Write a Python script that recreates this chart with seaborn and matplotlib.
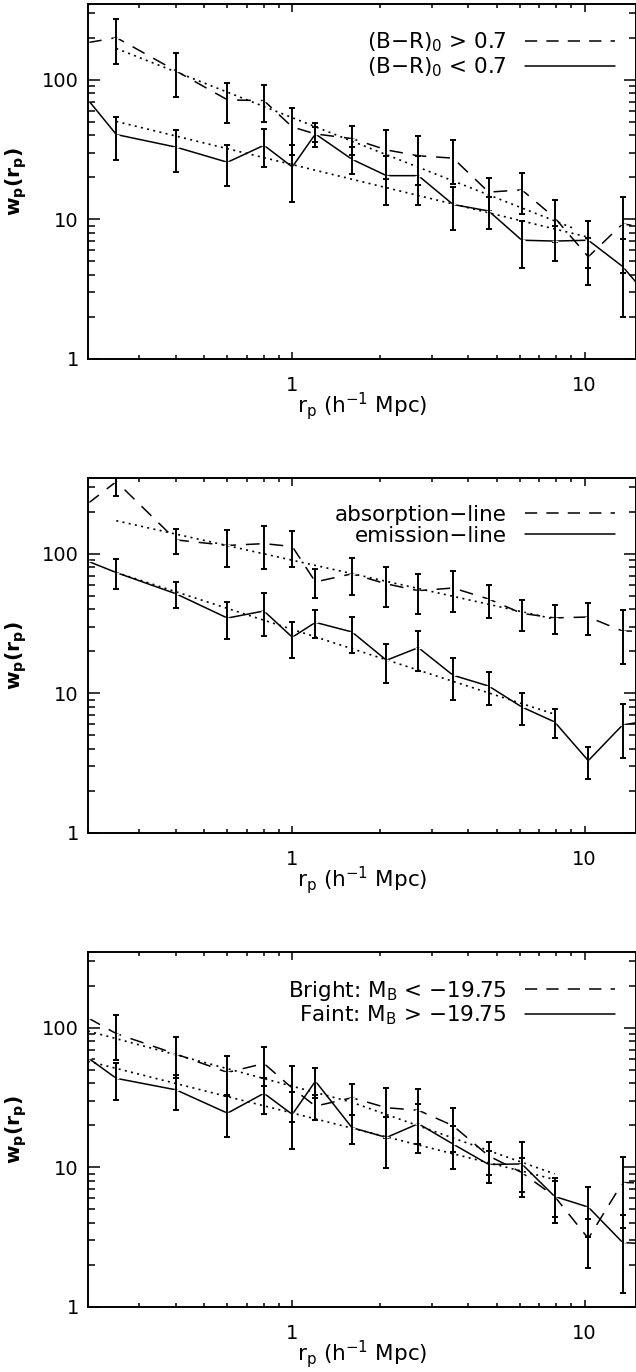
import numpy as np
import pandas as pd
import matplotlib
matplotlib.use("Agg")
import matplotlib.pyplot as plt
from matplotlib.ticker import FixedLocator, FixedFormatter, LogLocator, NullFormatter
from matplotlib.lines import Line2D
import seaborn as sns

# ---------------- data ----------------
r_p = [0.2, 0.25, 0.4, 0.6, 0.8, 1.0, 1.2, 1.6, 2.1, 2.7, 3.55, 4.7, 6.1, 7.9, 10.3, 13.5, 17.6]

# panel 1: colour split
red_w = [185, 201, 116, 72, 71, 46, 41, 38, 31.5, 28.6, 27.5, 15.7, 16.3, 10.3, 5.4, 9.3, 8.5]
red_e = [np.nan, 71, 40, 23, 21, 17, 5, 9, 12, 11, 9.4, 4.2, 5.3, 3.4, 2.0, 5.2, np.nan]
blue_w = [72, 40.6, 33, 25.7, 34, 23.8, 41, 27, 20.6, 20.6, 12.8, 11.5, 7.1, 7.0, 7.1, 4.6, 2.4]
blue_e = [np.nan, 14, 11, 8.4, 10.4, 10.4, 8, 6, 8, 8, 4.4, 3, 2.6, 2.0, 2.6, 2.6, np.nan]
fit1_up_x = [0.25, 9.1]
fit1_up_y = [168, 8.7]
fit1_lo_x = [0.25, 10.2]
fit1_lo_y = [50.4, 7.5]

# panel 2: spectral type
abs_w = [230, 330, 126, 115, 118.5, 113, 63, 72, 61, 54.5, 57, 47.5, 37.5, 34.8, 35.3, 28, 28]
abs_e = [np.nan, 70, 26, 34.5, 41, 32.5, 14.5, 21.4, 19.6, 17.5, 18.9, 12.7, 9.5, 8, 9.2, 11.8, np.nan]
em_w = [88.6, 73.5, 51.8, 34.7, 39, 25.3, 32.3, 27.6, 17.3, 21.3, 13.5, 11.3, 8.0, 6.25, 3.3, 5.95, 6.5]
em_e = [np.nan, 17.8, 11, 10.2, 13.4, 7.4, 7.5, 8, 5.5, 6.8, 4.5, 3, 2.1, 1.45, 0.86, 2.5, np.nan]
fit2_up_x = [0.25, 7.9]
fit2_up_y = [173, 34.1]
fit2_lo_x = [0.25, 7.9]
fit2_lo_y = [73.6, 7.1]

# panel 3: luminosity
bright_w = [118, 91, 65, 48, 55.6, 37, 27.5, 31.6, 26.8, 25.7, 19.9, 12.1, 9.2, 6.2, 3.1, 7.8, 7.7]
bright_e = [np.nan, 32, 21, 15, 17, 16, 5.7, 7.8, 10.5, 11, 6.9, 3.2, 2.5, 1.8, 1.2, 4.1, np.nan]
faint_w = [61, 43.5, 36, 24.5, 34, 24, 41.5, 19.3, 16.4, 20.6, 14.7, 10.5, 10.6, 6.2, 5.2, 2.9, 2.8]
faint_e = [np.nan, 13, 10, 8, 10, 10.5, 10, 4.5, 6.5, 8, 5, 2.7, 4.5, 2.2, 2.0, 1.63, np.nan]
fit3_up_x = [0.2, 1.6, 7.9]
fit3_up_y = [95, 29.3, 9.0]
fit3_lo_x = [0.2, 7.9]
fit3_lo_y = [57.7, 8.2]

legend_labels = [
    ["(B\u2212R)$_0$ > 0.7", "(B\u2212R)$_0$ < 0.7"],
    ["absorption\u2212line", "emission\u2212line"],
    ["Bright: M$_B$ < \u221219.75", "Faint: M$_B$ > \u221219.75"],
]

x_ticks = [1, 10]
x_tick_labels = ["1", "10"]
y_ticks = [1, 10, 100]
y_tick_labels = ["1", "10", "100"]
x_range = (0.2, 15)
y_range = (1, 350)

# ---------------- style ----------------
sns.set_theme(style="ticks")
plt.rcParams["font.family"] = ["DejaVu Sans"]
plt.rcParams["mathtext.default"] = "regular"
plt.rcParams["axes.edgecolor"] = "black"
plt.rcParams["xtick.color"] = "black"
plt.rcParams["ytick.color"] = "black"
plt.rcParams["text.color"] = "black"
plt.rcParams["axes.labelcolor"] = "black"

DASH = (0, (9, 6.5))
LEG_DASH = (0, (8, 6))
DOT = (0, (1.2, 2.6))
LW = 1.1

fig = plt.figure(figsize=(6.36, 13.72), dpi=100)
W, H = 636.0, 1372.0
ax_left = 88 / W
ax_w = 548 / W
ax_h = 355 / H
bottoms = [(H - 359) / H, (H - 833) / H, (H - 1307) / H]

panels = [
    (red_w, red_e, blue_w, blue_e, fit1_up_x, fit1_up_y, fit1_lo_x, fit1_lo_y),
    (abs_w, abs_e, em_w, em_e, fit2_up_x, fit2_up_y, fit2_lo_x, fit2_lo_y),
    (bright_w, bright_e, faint_w, faint_e, fit3_up_x, fit3_up_y, fit3_lo_x, fit3_lo_y),
]

for i, (wd, ed, ws, es, fux, fuy, flx, fly) in enumerate(panels):
    ax = fig.add_axes([ax_left, bottoms[i], ax_w, ax_h])
    ax.set_xscale("log")
    ax.set_yscale("log")

    # fits (dotted)
    for fx, fy in [(fux, fuy), (flx, fly)]:
        sns.lineplot(x=fx, y=fy, ax=ax, color="black", lw=1.2, linestyle=DOT,
                     estimator=None, sort=False, legend=False)

    # data lines and error bars
    for w, e, ls in [(wd, ed, DASH), (ws, es, "-")]:
        df = pd.DataFrame({"r": r_p, "w": w})
        sns.lineplot(data=df, x="r", y="w", ax=ax, color="black", lw=LW, linestyle=ls,
                     marker="+", markersize=4, markeredgewidth=1.0,
                     estimator=None, sort=False, legend=False)
        ax.errorbar(r_p, w, yerr=e, fmt="none", ecolor="black", elinewidth=1.4,
                    capsize=2.5, capthick=1.4)

    ax.set_xlim(*x_range)
    ax.set_ylim(*y_range)

    ax.xaxis.set_major_locator(FixedLocator(x_ticks))
    ax.xaxis.set_major_formatter(FixedFormatter(x_tick_labels))
    ax.xaxis.set_minor_locator(LogLocator(base=10, subs=np.arange(2, 10)))
    ax.xaxis.set_minor_formatter(NullFormatter())
    ax.yaxis.set_major_locator(FixedLocator(y_ticks))
    ax.yaxis.set_major_formatter(FixedFormatter(y_tick_labels))
    ax.yaxis.set_minor_locator(LogLocator(base=10, subs=np.arange(2, 10)))
    ax.yaxis.set_minor_formatter(NullFormatter())

    ax.tick_params(axis="x", which="major", direction="in", length=5.4, width=1.1,
                   top=True, bottom=True, pad=12, labelsize=14)
    ax.tick_params(axis="x", which="minor", direction="in", length=2.6, width=1.1,
                   top=True, bottom=True)
    ax.tick_params(axis="y", which="major", direction="in", length=8.6, width=1.1,
                   left=True, right=True, pad=6.5, labelsize=14)
    ax.tick_params(axis="y", which="minor", direction="in", length=4.8, width=1.1,
                   left=True, right=True)
    for sp in ax.spines.values():
        sp.set_linewidth(1.4)
        sp.set_color("black")

    ax.set_xlabel("r$_p$ (h$^{-1}$ Mpc)", fontsize=15.5, labelpad=-3)
    ax.set_ylabel("w$_p$(r$_p$)", fontsize=14.5, fontweight="bold")
    ax.yaxis.set_label_coords(-0.108, 0.5)

    handles = [Line2D([], [], color="black", lw=LW, linestyle=LEG_DASH),
               Line2D([], [], color="black", lw=LW, linestyle="-")]
    ax.legend(handles, legend_labels[i], loc="upper right", bbox_to_anchor=(0.962, 0.925),
              frameon=False, markerfirst=False, fontsize=15.5, handlelength=4.2,
              handletextpad=0.85, borderpad=0, borderaxespad=0, labelspacing=0.05)

fig.savefig("out.png", dpi=100)
